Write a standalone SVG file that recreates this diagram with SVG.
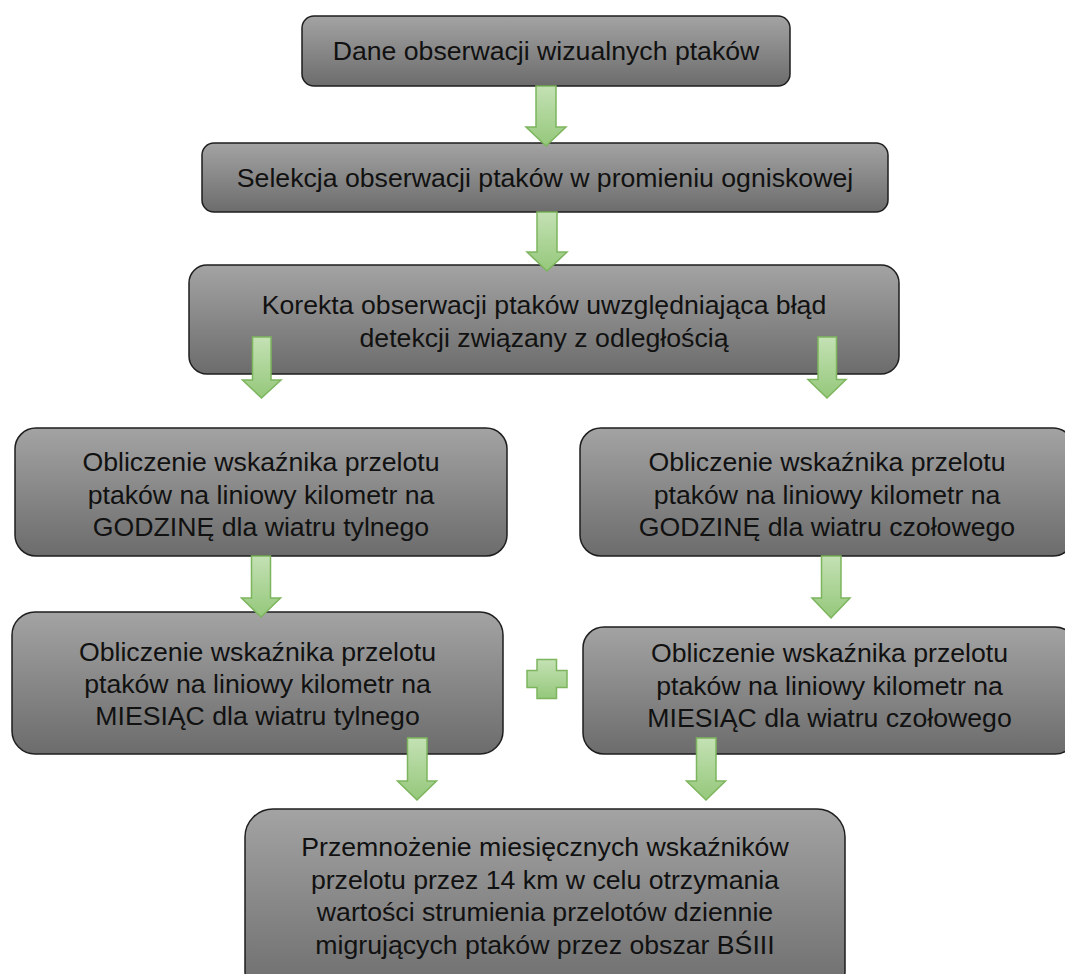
<svg xmlns="http://www.w3.org/2000/svg" width="1065" height="974" viewBox="0 0 1065 974">
<defs>
<linearGradient id="boxGrad" x1="0" y1="0" x2="0" y2="1">
<stop offset="0" stop-color="#a3a3a3"/>
<stop offset="1" stop-color="#6c6c6c"/>
</linearGradient>
<linearGradient id="arrGrad" x1="0" y1="0" x2="0" y2="1">
<stop offset="0" stop-color="#c4e1b4"/>
<stop offset="1" stop-color="#95c87b"/>
</linearGradient>
<style>
.box{fill:url(#boxGrad);stroke:#1e1e1e;stroke-width:1.5}
.lbl{font-family:"Liberation Sans",Arial,sans-serif;font-size:26.67px;fill:#111;text-anchor:middle}
.arr{fill:url(#arrGrad);stroke:#7cb55d;stroke-width:1.5;stroke-linejoin:miter}
</style>
</defs>
<rect width="1065" height="974" fill="#ffffff"/>

<g id="node1">
<rect class="box" x="302" y="16" width="488" height="70" rx="12"/>
<text class="lbl" x="546" y="60">Dane obserwacji wizualnych ptaków</text>
</g>
<g id="node2">
<rect class="box" x="202" y="143" width="686" height="69" rx="12"/>
<text class="lbl" x="545" y="186.5">Selekcja obserwacji ptaków w promieniu ogniskowej</text>
</g>
<g id="node3">
<rect class="box" x="189" y="265" width="710" height="109" rx="18"/>
<text class="lbl" x="544" y="313.5">Korekta obserwacji ptaków uwzględniająca błąd</text>
<text class="lbl" x="544" y="346.5">detekcji związany z odległością</text>
</g>
<g id="node4">
<rect class="box" x="15" y="428" width="492" height="128" rx="21"/>
<text class="lbl" x="261" y="471">Obliczenie wskaźnika przelotu</text>
<text class="lbl" x="261" y="503.5">ptaków na liniowy kilometr na</text>
<text class="lbl" x="261" y="536">GODZINĘ dla wiatru tylnego</text>
</g>
<g id="node5">
<rect class="box" x="580" y="428" width="494" height="128" rx="21"/>
<text class="lbl" x="827" y="471">Obliczenie wskaźnika przelotu</text>
<text class="lbl" x="827" y="503.5">ptaków na liniowy kilometr na</text>
<text class="lbl" x="827" y="536">GODZINĘ dla wiatru czołowego</text>
</g>
<g id="node6">
<rect class="box" x="12" y="612" width="491" height="142" rx="23"/>
<text class="lbl" x="257.5" y="661">Obliczenie wskaźnika przelotu</text>
<text class="lbl" x="257.5" y="693">ptaków na liniowy kilometr na</text>
<text class="lbl" x="257.5" y="725">MIESIĄC dla wiatru tylnego</text>
</g>
<g id="node7">
<rect class="box" x="583" y="627" width="493" height="127" rx="21"/>
<text class="lbl" x="829.5" y="662">Obliczenie wskaźnika przelotu</text>
<text class="lbl" x="829.5" y="694.5">ptaków na liniowy kilometr na</text>
<text class="lbl" x="829.5" y="727">MIESIĄC dla wiatru czołowego</text>
</g>
<g id="node8">
<rect class="box" x="245" y="809" width="600" height="190" rx="28"/>
<text class="lbl" x="545" y="856">Przemnożenie miesięcznych wskaźników</text>
<text class="lbl" x="545" y="888.5">przelotu przez 14 km w celu otrzymania</text>
<text class="lbl" x="545" y="921">wartości strumienia przelotów dziennie</text>
<text class="lbl" x="545" y="953.5">migrujących ptaków przez obszar BŚIII</text>
</g>
<g id="plus">
<path class="arr" d="M537,659.5 H556.5 V670.5 H567 V687.5 H556.5 V698.5 H537 V687.5 H527 V670.5 H537 Z"/>
</g>

<g id="connectors">
<path class="arr" d="M536,86 H556 V127 H566 L546,146 L526,127 H536 Z"/>
<path class="arr" d="M537,212 H557 V252 H567 L547,271 L527,252 H537 Z"/>
<path class="arr" d="M252.5,337 H271 V380 H281 L261.5,398 L242.5,380 H252.5 Z"/>
<path class="arr" d="M818,337 H836.5 V379.5 H846 L827,398 L808,379.5 H818 Z"/>
<path class="arr" d="M251.5,556 H270.5 V598 H280.5 L261,617 L241.5,598 H251.5 Z"/>
<path class="arr" d="M821.5,556 H841 V598 H850 L831,618 L812,598 H821.5 Z"/>
<path class="arr" d="M407.5,738 H427 V781 H436.5 L417,800 L397.5,781 H407.5 Z"/>
<path class="arr" d="M696.5,738 H716 V781 H725.5 L706,800 L686.5,781 H696.5 Z"/>
</g>
</svg>
